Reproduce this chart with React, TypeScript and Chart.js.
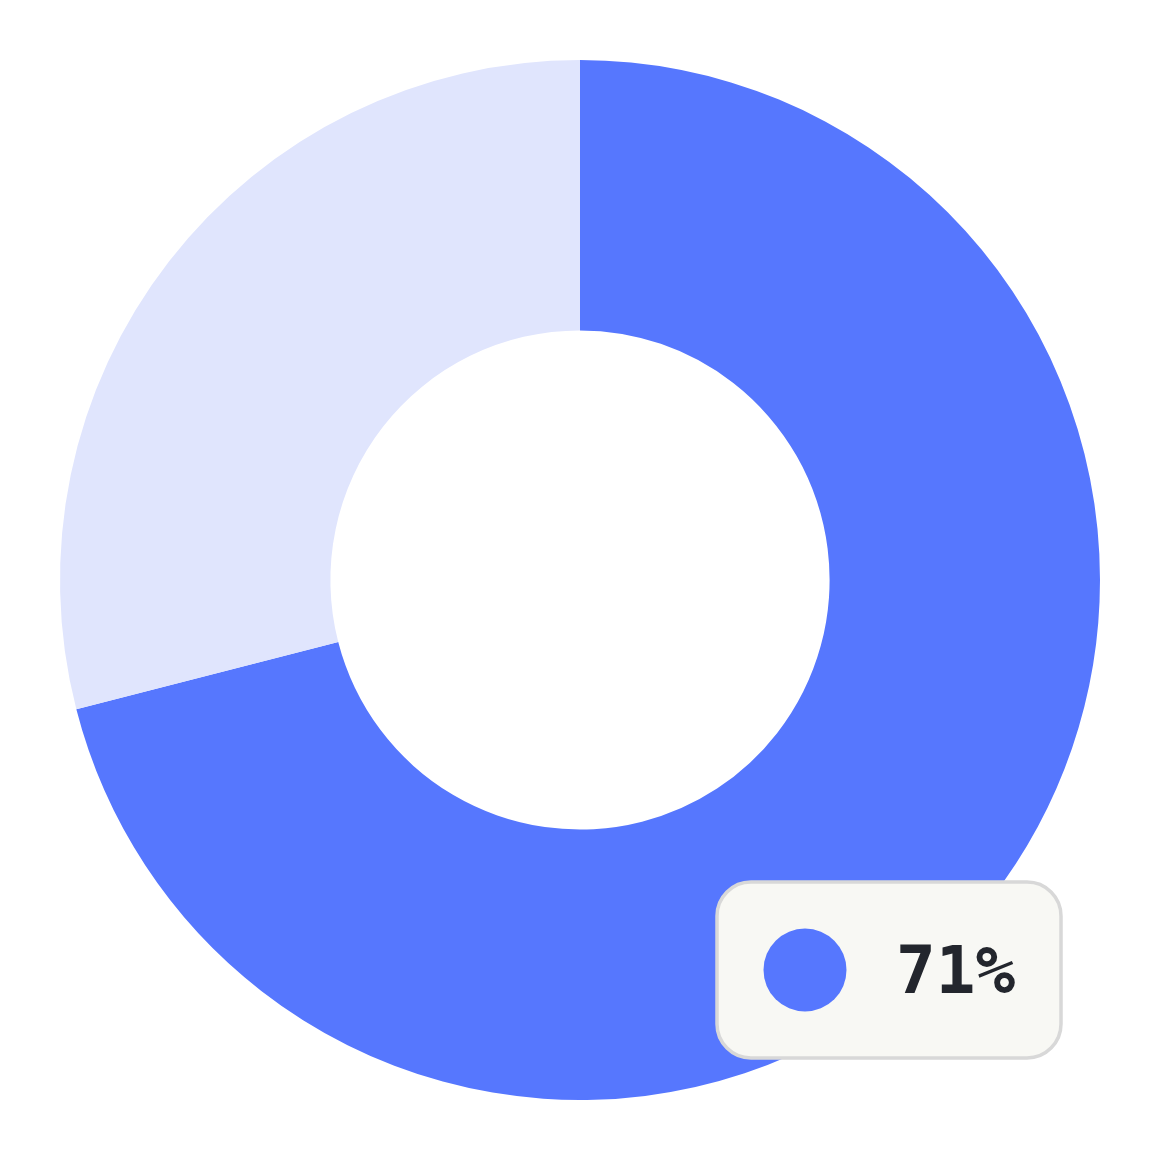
import { Chart, registerables } from "chart.js";
import { useEffect, useRef } from "react";

Chart.register(...registerables);

// data
const labels = ["Share", "Rest"];
const values = [71, 29];
const colors = ["#5677FE", "#E0E5FD"];

// draws the little value badge in the lower right corner
const badgePlugin = {
  id: "badge",
  afterDraw(chart: Chart) {
    const ctx = chart.ctx;
    const x = 717;
    const y = 882;
    const w = 344;
    const h = 176;
    const r = 34;
    ctx.save();
    ctx.beginPath();
    ctx.roundRect(x, y, w, h, r);
    ctx.fillStyle = "#F8F8F4";
    ctx.fill();
    ctx.lineWidth = 3.5;
    ctx.strokeStyle = "#D8D8D8";
    ctx.stroke();

    // color dot for the first slice
    ctx.beginPath();
    ctx.arc(805, 970, 41.5, 0, Math.PI * 2);
    ctx.fillStyle = colors[0];
    ctx.fill();

    const total = values.reduce((a, b) => a + b, 0);
    const pct = Math.round((values[0] / total) * 100) + "%";
    ctx.fillStyle = "#23262D";
    ctx.font = "bold 66px 'DejaVu Sans Mono', monospace";
    ctx.textAlign = "left";
    ctx.textBaseline = "alphabetic";
    ctx.fillText(pct, 896, 993);
    ctx.restore();
  },
};

export default function App() {
  const chartRef = useRef<HTMLCanvasElement | null>(null);

  useEffect(() => {
    document.body.style.margin = "0";
    const ref = chartRef.current;
    if (!ref) return;

    const chart = new Chart(ref, {
      type: "doughnut",
      data: {
        labels,
        datasets: [
          {
            data: values,
            backgroundColor: colors,
            borderWidth: 0,
          },
        ],
      },
      options: {
        animation: false,
        responsive: true,
        maintainAspectRatio: false,
        cutout: "48%",
        layout: { padding: 60 },
        plugins: {
          legend: { display: false },
          tooltip: { enabled: false },
        },
      },
      plugins: [badgePlugin],
    });

    return () => {
      chart.destroy();
    };
  }, []);

  return (
    <div style={{ position: "absolute", left: 0, top: 0, width: 1160, height: 1160 }}>
      <canvas ref={chartRef} />
    </div>
  );
}
